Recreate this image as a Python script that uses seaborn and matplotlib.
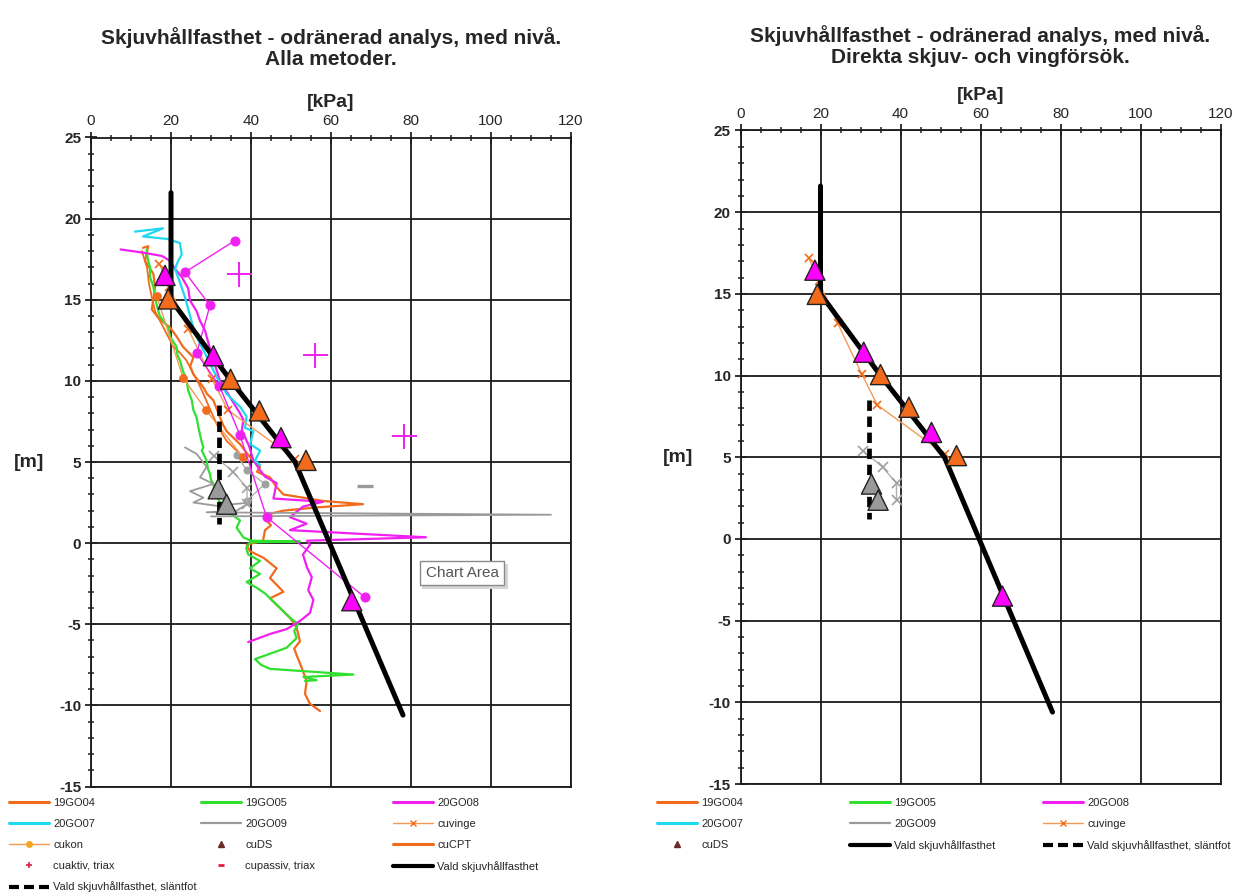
import numpy as np
import pandas as pd
import matplotlib
matplotlib.use("Agg")
import matplotlib.pyplot as plt
import seaborn as sns
from matplotlib.lines import Line2D
from matplotlib.patches import Rectangle
from matplotlib.ticker import MultipleLocator

sns.set_theme(style="white")
plt.rcParams["font.family"] = ["Liberation Sans", "DejaVu Sans"]
plt.rcParams["axes.unicode_minus"] = False

# ---------------- data ----------------
# CPT traces (x = kPa, y = level m)
g04_x = [13.0, 14.3, 13.5, 15.6, 16.0, 15.6, 15.2, 16.8, 18.2, 19.75, 21.5, 23.0, 25.6, 24.8, 25.6, 28.1, 29.0,
         30.6, 32.25, 33.0, 33.9, 37.25, 39.75, 42.25, 41.5, 44.75, 46.4, 48.1, 58.0, 68.0, 56.4, 48.0, 44.75,
         43.9, 45.0, 43.5, 43.0, 38.9, 39.75, 43.1, 46.4, 44.75, 48.1, 44.75, 47.25, 49.75, 51.4, 52.25, 50.8,
         51.4, 52.7, 53.9, 53.5, 54.75, 57.25]
g04_y = [18.2, 18.3, 17.4, 16.6, 15.8, 15.05, 14.4, 13.9, 13.6, 13.3, 12.7, 12.1, 11.45, 10.9, 10.4, 9.6, 9.2,
         8.8, 7.75, 7.3, 6.9, 6.1, 5.3, 4.7, 4.4, 4.05, 3.45, 3.0, 2.6, 2.4, 2.2, 2.0, 1.8,
         1.4, 1.1, 0.8, 0.15, -0.1, -0.5, -0.9, -1.55, -2.15, -3.0, -3.4, -4.0, -4.6, -5.2, -6.05, -6.5,
         -6.9, -7.7, -8.5, -9.3, -9.9, -10.35]

cpt_x = [12.7, 14.0, 14.5, 15.2, 16.0, 18.5, 20.6, 22.0, 23.9, 26.0, 27.0, 28.1, 30.2, 31.8, 33.9, 37.25, 38.0]
cpt_y = [18.0, 17.0, 16.0, 15.15, 14.3, 13.1, 12.1, 11.8, 11.25, 10.25, 9.8, 9.2, 8.0, 7.15, 6.3, 5.5, 5.2]

g05_x = [13.9, 14.2, 14.75, 14.75, 15.6, 16.0, 16.5, 17.2, 19.3, 19.8, 21.4, 21.6, 22.25, 23.0, 23.9, 24.3,
         25.2, 25.6, 26.4, 26.8, 27.25, 27.6, 28.1, 27.7, 28.9, 29.2, 29.75, 30.0, 30.6, 30.9, 31.4, 32.3,
         33.1, 34.75, 37.25, 36.4, 38.1, 40.0, 52.25, 39.75, 38.8, 39.3, 42.25, 39.75, 42.25, 38.9, 41.4,
         43.5, 44.75, 47.25, 49.75, 51.8, 50.8, 51.4, 48.9, 41.0, 42.5, 44.75, 65.6, 53.1, 56.4, 53.5]
g05_y = [18.1, 17.5, 17.0, 16.4, 15.8, 15.15, 14.6, 14.0, 13.3, 12.7, 12.1, 11.6, 11.25, 10.6, 10.05, 9.4,
         8.8, 8.2, 7.75, 7.2, 6.7, 6.3, 5.9, 5.7, 5.1, 4.6, 4.25, 3.9, 3.65, 3.2, 2.9, 2.5,
         2.2, 1.85, 1.4, 0.95, 0.35, 0.15, 0.1, 0.05, -0.3, -0.7, -1.1, -1.55, -1.9, -2.4, -2.75,
         -3.1, -3.4, -4.0, -4.6, -5.0, -5.4, -5.85, -6.45, -7.15, -7.5, -7.75, -8.1, -8.25, -8.45, -8.5]

g08_x = [7.4, 13.1, 17.7, 19.75, 21.0, 22.7, 24.3, 24.75, 26.4, 27.25, 28.5, 29.5, 30.6, 31.5, 32.25, 34.75,
         37.25, 38.1, 37.7, 39.5, 40.6, 42.25, 43.5, 46.4, 45.6, 58.0, 53.0, 49.75, 53.9, 49.75, 83.75, 54.0,
         54.75, 53.0, 54.0, 55.2, 54.3, 55.6, 54.75, 52.25, 48.9, 44.75, 39.3]
g08_y = [18.1, 17.9, 17.7, 17.4, 16.9, 16.4, 15.7, 14.95, 14.3, 13.7, 13.1, 12.2, 11.25, 10.6, 10.0, 9.0,
         8.0, 7.6, 6.95, 6.0, 5.1, 4.5, 4.1, 3.7, 2.75, 2.55, 2.25, 1.6, 1.2, 0.8, 0.36, 0.15,
         -0.1, -0.7, -1.5, -2.1, -2.9, -3.5, -4.3, -4.8, -5.3, -5.6, -6.1]

g07_x = [11.0, 18.0, 13.0, 19.0, 22.2, 22.7, 21.8, 21.0, 22.2, 23.5, 26.0, 28.9, 31.4, 33.9, 37.3, 38.9,
         38.5, 40.6, 39.8, 42.3, 41.0, 42.3]
g07_y = [19.2, 19.4, 18.9, 18.75, 18.5, 17.8, 17.4, 16.9, 16.1, 15.15, 12.9, 11.5, 10.25, 9.2, 8.4, 7.8,
         7.1, 6.9, 6.1, 5.7, 5.1, 4.8]

g09_x = [23.5, 26.4, 28.9, 27.25, 30.6, 24.75, 28.1, 25.6, 31.4, 39.75, 36.4, 28.9, 115.0, 30.0]
g09_y = [5.9, 5.5, 4.7, 4.05, 3.65, 3.2, 2.8, 2.5, 2.3, 2.5, 2.0, 1.9, 1.75, 1.65]

# vane / fall cone / triaxial
vinge_x = [17.1, 19.5, 24.3, 30.3, 34.2, 51.0]
vinge_y = [17.2, 15.8, 13.2, 10.1, 8.2, 5.2]
vinge_gray_x = [30.7, 35.5, 39.0, 39.0]
vinge_gray_y = [5.4, 4.4, 3.4, 2.4]
kon_x = [16.4, 23.0, 28.75, 38.0]
kon_y = [15.25, 10.2, 8.2, 5.3]
kon_gray_x = [36.4, 38.9, 43.5, 38.9]
kon_gray_y = [5.45, 4.5, 3.65, 2.6]
kon_mag_x = [36.0, 23.5, 29.75, 26.4, 32.1, 37.25, 43.9, 68.5]
kon_mag_y = [18.65, 16.7, 14.65, 11.7, 9.7, 6.65, 1.6, -3.35]
aktiv_x = [37.0, 56.0, 78.25]
aktiv_y = [16.6, 11.6, 6.6]
passiv_x = [68.5]
passiv_y = [3.5]

# direct shear (cuDS)
ds_kind = ["m", "o", "m", "o", "o", "m", "o", "m", "g", "g"]
dsL_x = [18.5, 19.3, 30.6, 34.9, 42.1, 47.5, 53.75, 65.2, 31.8, 33.9]
dsL_y = [16.5, 15.05, 11.55, 10.1, 8.15, 6.5, 5.1, -3.55, 3.35, 2.4]
dsR_x = [18.6, 19.2, 30.8, 35.0, 42.1, 47.75, 54.0, 65.5, 32.75, 34.4]
dsR_y = [16.45, 14.97, 11.43, 10.06, 8.06, 6.52, 5.1, -3.5, 3.36, 2.37]

# chosen strength
vald_x = [20.0, 20.0, 35.0, 51.0, 78.0]
vald_y = [21.6, 15.0, 10.0, 5.0, -10.6]
slant_x = [32.0, 32.0]
slant_y = [8.5, 1.2]

x_ticks = [0, 20, 40, 60, 80, 100, 120]
y_ticks = [-15, -10, -5, 0, 5, 10, 15, 20, 25]

titles = ["Skjuvhållfasthet - odränerad analys, med nivå.\nAlla metoder.",
          "Skjuvhållfasthet - odränerad analys, med nivå.\nDirekta skjuv- och vingförsök."]

# ---------------- colours ----------------
C_OR = "#F26A1B"
C_GR = "#2FE02F"
C_MA = "#F020F0"
C_CY = "#1ED8F2"
C_GY = "#9A9A9A"
C_BK = "#000000"
DS_PAL = {"m": "#FF00FF", "o": "#F26A1B", "g": "#9A9A9A"}

W, HPX = 1235, 896
fig = plt.figure(figsize=(W / 100, HPX / 100), dpi=100)
axL = fig.add_axes([91 / W, 1 - 786.5 / HPX, 480 / W, (786.5 - 137.5) / HPX])
axR = fig.add_axes([740.5 / W, 1 - 784 / HPX, 480 / W, (784 - 130.5) / HPX])


def line(ax, x, y, color, lw, z=2, **kw):
    sns.lineplot(x=x, y=y, sort=False, estimator=None, ax=ax, color=color, lw=lw,
                 legend=False, zorder=z, **kw)


def style(ax):
    ax.set_xlim(0, 120)
    ax.set_ylim(-15, 25)
    ax.xaxis.tick_top()
    ax.xaxis.set_label_position("top")
    ax.set_xticks(x_ticks)
    ax.set_yticks(y_ticks)
    ax.xaxis.set_minor_locator(MultipleLocator(5))
    ax.yaxis.set_minor_locator(MultipleLocator(1))
    ax.tick_params(axis="both", which="major", direction="inout", length=8, width=1.3,
                   color="#222222", labelsize=11, top=True, bottom=False, left=True, right=False)
    ax.tick_params(axis="both", which="minor", direction="inout", length=5, width=1.1,
                   color="#222222", top=True, bottom=False, left=True, right=False)
    ax.tick_params(axis="x", pad=3)
    ax.tick_params(axis="y", pad=3)
    for lab in ax.get_yticklabels():
        lab.set_fontweight("bold")
    ax.grid(True, which="major", color="#1a1a1a", lw=1.3, zorder=0)
    ax.set_axisbelow(True)
    for s in ax.spines.values():
        s.set_color("#1a1a1a")
        s.set_linewidth(1.3)
    ax.set_xlabel("[kPa]", fontsize=14, fontweight="bold", labelpad=5)
    ax.set_ylabel("[m]", fontsize=14, fontweight="bold", rotation=0, labelpad=22, va="center")
    ax.set_facecolor("white")


# ---------------- left chart ----------------
line(axL, g04_x, g04_y, C_OR, 1.6)
line(axL, cpt_x, cpt_y, C_OR, 1.3)
line(axL, g05_x, g05_y, C_GR, 1.6)
line(axL, g08_x, g08_y, C_MA, 1.6)
line(axL, g07_x, g07_y, C_CY, 1.6)
line(axL, g09_x, g09_y, C_GY, 1.3)
line(axL, kon_gray_x, kon_gray_y, "#B0B0B0", 1.0, marker="o", ms=5, mfc="#A0A0A0", mec="#A0A0A0")
line(axL, vinge_gray_x, vinge_gray_y, "#B0B0B0", 1.0, marker="x", ms=7, mec="#A0A0A0", mew=1.2)
line(axL, kon_x, kon_y, "#F39A55", 1.0, marker="o", ms=5.5, mfc=C_OR, mec=C_OR)
line(axL, vinge_x, vinge_y, "#F39A55", 1.0, marker="x", ms=6, mec=C_OR, mew=1.2)
line(axL, kon_mag_x, kon_mag_y, C_MA, 1.0, marker="o", ms=6.5, mfc=C_MA, mec=C_MA)
line(axL, aktiv_x, aktiv_y, C_MA, 0, marker="+", ms=18, mew=1.4, mec=C_MA, linestyle="none")
line(axL, passiv_x, passiv_y, C_GY, 0, marker="_", ms=12, mew=2.4, mec=C_GY, linestyle="none")
line(axL, vald_x, vald_y, C_BK, 3.6, z=4)
line(axL, slant_x, slant_y, C_BK, 3.4, z=4, linestyle=(0, (2.2, 1.2)))
sns.scatterplot(x=dsL_x, y=dsL_y, hue=ds_kind, palette=DS_PAL, marker="^", s=210,
                edgecolor="#222222", linewidth=1.0, legend=False, ax=axL, zorder=5)
style(axL)

# ---------------- right chart ----------------
line(axR, vinge_gray_x, vinge_gray_y, "#B0B0B0", 1.0, marker="x", ms=7, mec="#A0A0A0", mew=1.2)
line(axR, vinge_x, vinge_y, "#F39A55", 1.0, marker="x", ms=6, mec=C_OR, mew=1.2)
line(axR, vald_x, vald_y, C_BK, 3.6, z=4)
line(axR, slant_x, slant_y, C_BK, 3.4, z=4, linestyle=(0, (2.2, 1.2)))
sns.scatterplot(x=dsR_x, y=dsR_y, hue=ds_kind, palette=DS_PAL, marker="^", s=210,
                edgecolor="#222222", linewidth=1.0, legend=False, ax=axR, zorder=5)
style(axR)

# titles
fig.text(331 / W, 1 - 48 / HPX, titles[0], ha="center", va="center", fontsize=15,
         fontweight="bold", linespacing=1.1)
fig.text(980 / W, 1 - 46 / HPX, titles[1], ha="center", va="center", fontsize=15,
         fontweight="bold", linespacing=1.1)

# ---------------- legends ----------------
HND = {
    "19GO04": Line2D([], [], color=C_OR, lw=2.2),
    "19GO05": Line2D([], [], color=C_GR, lw=2.2),
    "20GO08": Line2D([], [], color=C_MA, lw=2.2),
    "20GO07": Line2D([], [], color=C_CY, lw=2.2),
    "20GO09": Line2D([], [], color=C_GY, lw=1.6),
    "cuvinge": Line2D([], [], color="#F39A55", lw=1.0, marker="x", ms=4, mec=C_OR),
    "cukon": Line2D([], [], color="#F39A55", lw=1.0, marker="o", ms=4, mfc="#F5A623", mec="#F5A623"),
    "cuDS": Line2D([], [], color="#6B2A2A", lw=0, marker="^", ms=4.5),
    "cuCPT": Line2D([], [], color=C_OR, lw=2.2),
    "cuaktiv, triax": Line2D([], [], color="#E0203A", lw=0, marker="+", ms=4, mew=1.2),
    "cupassiv, triax": Line2D([], [], color="#E0203A", lw=0, marker="_", ms=4, mew=2),
    "Vald skjuvhållfasthet": Line2D([], [], color=C_BK, lw=3),
    "Vald skjuvhållfasthet, släntfot": Line2D([], [], color=C_BK, lw=3, linestyle=(0, (2.4, 1.2))),
}


def col_legend(keys, x_px, y_px):
    return fig.legend([HND[k] for k in keys], keys, loc="upper left",
                      bbox_to_anchor=(x_px / W, 1 - y_px / HPX), bbox_transform=fig.transFigure,
                      frameon=False, fontsize=8, handlelength=3.6, handletextpad=0.4,
                      labelspacing=0.98, borderpad=0, borderaxespad=0)


col_legend(["19GO04", "20GO07", "cukon", "cuaktiv, triax", "Vald skjuvhållfasthet, släntfot"], 9, 798)
col_legend(["19GO05", "20GO09", "cuDS", "cupassiv, triax"], 201, 798)
col_legend(["20GO08", "cuvinge", "cuCPT", "Vald skjuvhållfasthet"], 393, 798)
col_legend(["19GO04", "20GO07", "cuDS"], 657, 798)
col_legend(["19GO05", "20GO09", "Vald skjuvhållfasthet"], 850, 798)
col_legend(["20GO08", "cuvinge", "Vald skjuvhållfasthet, släntfot"], 1043, 798)

# screenshot tooltip with shadow
fig.patches.append(Rectangle((422 / W, 1 - 589 / HPX), 86 / W, 25 / HPX, transform=fig.transFigure,
                             facecolor="#d6d6d6", edgecolor="none", zorder=8))
fig.text(462 / W, 1 - 573 / HPX, "Chart Area", ha="center", va="center", fontsize=11,
         color="#555555", bbox=dict(boxstyle="square,pad=0.35", fc="white", ec="#8a8a8a", lw=1.0),
         zorder=9)

fig.savefig("out.png", dpi=100, facecolor="white")
